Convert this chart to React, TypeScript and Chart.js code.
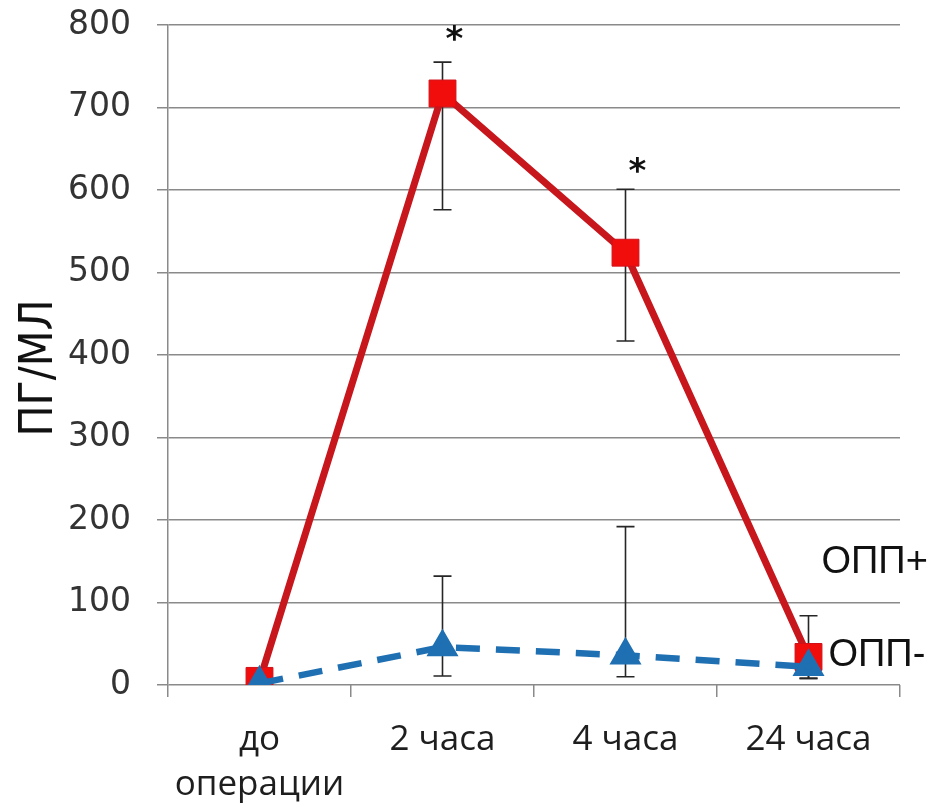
import React, { useEffect, useRef } from "react";
import { Chart, registerables } from "chart.js";

Chart.register(...registerables);

const categories: (string | string[])[] = [["до", "операции"], "2 часа", "4 часа", "24 часа"];
const redValues = [5, 717, 524, 34];
const redErrLow = [null, 576, 417, 8];
const redErrHigh = [null, 755, 601, 84];
const blueValues = [2, 46, 36, 22];
const blueErrLow = [null, 11, 10, 8];
const blueErrHigh = [null, 132, 192, 30];
const asteriskValues = [null, 790, 630, null];
const yTicks = [0, 100, 200, 300, 400, 500, 600, 700, 800];
const seriesLabels = ["ОПП+", "ОПП-"];
const seriesLabelValues = [148, 36];

const GRID = "#8a8a8a";

const overlayPlugin = {
  id: "overlay",
  beforeDatasetsDraw(chart: any) {
    const ctx = chart.ctx;
    const xs = chart.scales.x;
    const ys = chart.scales.y;
    ctx.save();
    ctx.strokeStyle = "#262626";
    ctx.lineWidth = 1.6;
    const drawBars = (lo: (number | null)[], hi: (number | null)[]) => {
      lo.forEach((l, i) => {
        const h = hi[i];
        if (l == null || h == null) return;
        const x = xs.getPixelForValue(i);
        const y1 = ys.getPixelForValue(l);
        const y2 = ys.getPixelForValue(h);
        ctx.beginPath();
        ctx.moveTo(x, y1);
        ctx.lineTo(x, y2);
        ctx.moveTo(x - 9, y1);
        ctx.lineTo(x + 9, y1);
        ctx.moveTo(x - 9, y2);
        ctx.lineTo(x + 9, y2);
        ctx.stroke();
      });
    };
    drawBars(redErrLow, redErrHigh);
    drawBars(blueErrLow, blueErrHigh);
    ctx.restore();
  },
  afterDraw(chart: any) {
    const ctx = chart.ctx;
    const xs = chart.scales.x;
    const ys = chart.scales.y;
    ctx.save();
    // asterisks
    ctx.fillStyle = "#111";
    ctx.font = "bold 34px 'DejaVu Sans'";
    ctx.textAlign = "center";
    ctx.textBaseline = "middle";
    asteriskValues.forEach((v, i) => {
      if (v == null) return;
      ctx.fillText("*", xs.getPixelForValue(i) + 12, ys.getPixelForValue(v) + 8);
    });
    // series labels
    ctx.font = "38px 'Liberation Sans'";
    ctx.textAlign = "left";
    ctx.fillStyle = "#111";
    const lastX = xs.getPixelForValue(categories.length - 1);
    ctx.fillText(seriesLabels[0], lastX + 13, ys.getPixelForValue(seriesLabelValues[0]));
    ctx.fillText(seriesLabels[1], lastX + 20, ys.getPixelForValue(seriesLabelValues[1]));
    // y title
    ctx.translate(40, (chart.chartArea.top + chart.chartArea.bottom) / 2 + 13);
    ctx.rotate(-Math.PI / 2);
    ctx.textAlign = "center";
    ctx.font = "46px 'Liberation Sans Narrow', 'DejaVu Sans Condensed', 'Liberation Sans'";
    ctx.fillText("ПГ/МЛ", 0, 0);
    ctx.restore();
  },
};

export default function App() {
  const ref = useRef<HTMLCanvasElement | null>(null);
  useEffect(() => {
    if (!ref.current) return;
    const chart = new Chart(ref.current, {
      type: "line",
      data: {
        labels: categories as any,
        datasets: [
          {
            label: "ОПП+",
            data: redValues,
            borderColor: "#c8161d",
            borderWidth: 7,
            pointStyle: "rect",
            pointRadius: 19,
            pointBackgroundColor: "#f20d0d",
            pointBorderColor: "#d01018",
            pointBorderWidth: 1,
            order: 2,
          },
          {
            label: "ОПП-",
            data: blueValues,
            borderColor: "#1f6fb3",
            borderWidth: 6.5,
            borderDash: [24, 16],
            pointStyle: "triangle",
            pointRadius: 12,
            pointBackgroundColor: "#1f6fb3",
            pointBorderColor: "#1f6fb3",
            order: 1,
          },
        ],
      },
      options: {
        animation: false,
        responsive: true,
        maintainAspectRatio: false,
        layout: { padding: { left: 0, right: 34, top: 25, bottom: 0 } },
        plugins: { legend: { display: false }, tooltip: { enabled: false } },
        scales: {
          x: {
            offset: true,
            afterFit: (s: any) => {
              s.height = 124;
              s.paddingLeft = 0;
              s.paddingRight = 0;
            },
            grid: {
              offset: true,
              drawOnChartArea: false,
              drawTicks: true,
              tickLength: 12,
              color: GRID,
              lineWidth: 1.5,
            },
            border: { display: false },
            ticks: {
              color: "#1e1e1e",
              font: { family: "'Open Sans'", size: 35, lineHeight: 1.3 },
              padding: 20,
              maxRotation: 0,
              autoSkip: false,
            },
          },
          y: {
            min: 0,
            max: 800,
            afterFit: (s: any) => {
              s.width = 168;
              s.paddingTop = 0;
              s.paddingBottom = 0;
            },
            afterBuildTicks: (s: any) => {
              s.ticks = yTicks.map((v) => ({ value: v }));
            },
            grid: {
              color: GRID,
              lineWidth: 1.5,
              tickLength: 11,
            },
            border: { display: true, color: GRID, width: 1.5 },
            ticks: {
              color: "#333",
              font: { family: "'DejaVu Sans'", size: 33 },
              padding: 26,
            },
          },
        },
      },
      plugins: [overlayPlugin],
    });
    return () => chart.destroy();
  }, []);
  return (
    <div style={{ position: "fixed", left: 0, top: 0, width: 934, height: 809, background: "#fff" }}>
      <canvas ref={ref} />
    </div>
  );
}
